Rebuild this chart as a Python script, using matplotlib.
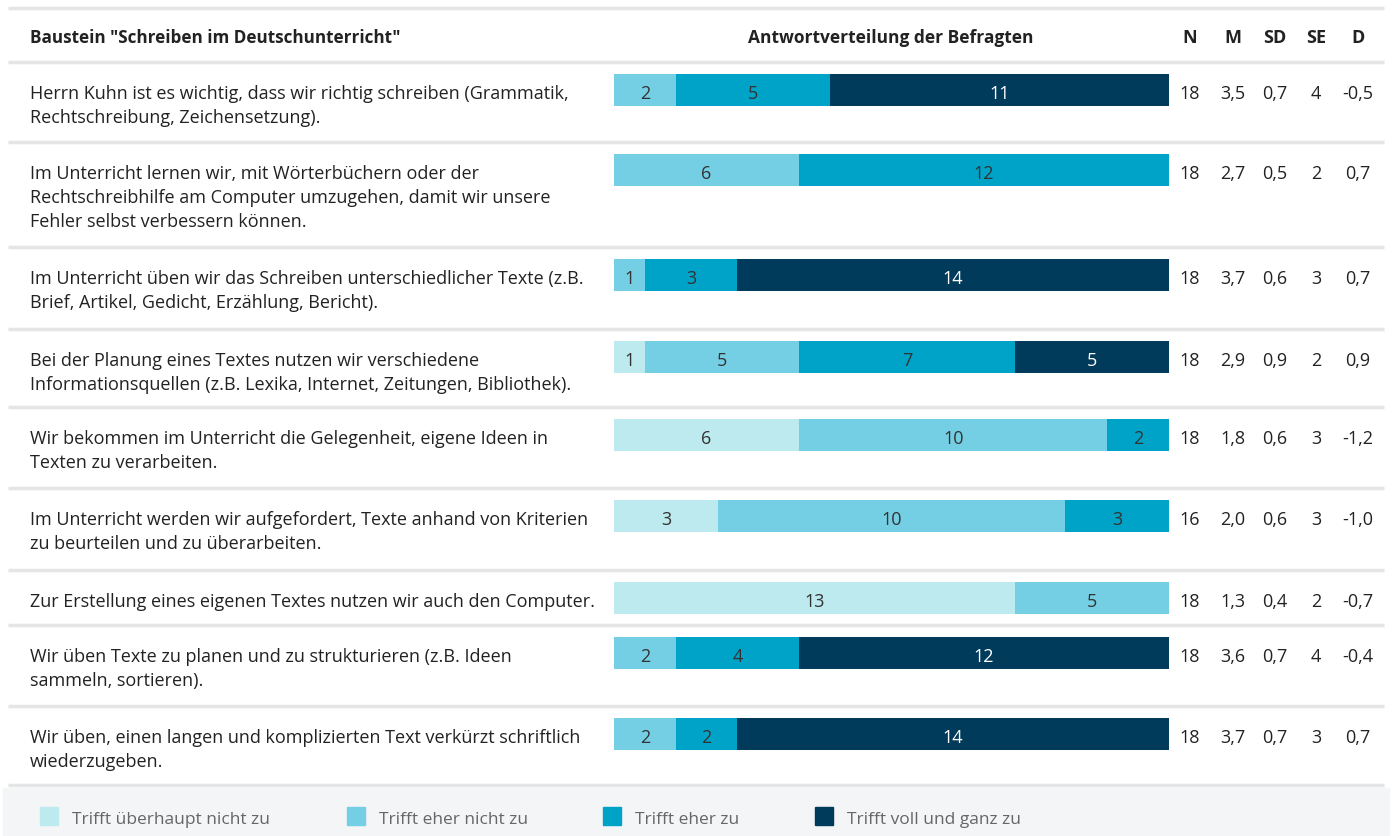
import matplotlib
matplotlib.use('Agg')
import matplotlib.pyplot as plt
import numpy as np
from matplotlib.patches import Rectangle

plt.rcParams['font.family'] = ['Open Sans', 'DejaVu Sans']

# ---- data ----
items = [
    "Herrn Kuhn ist es wichtig, dass wir richtig schreiben (Grammatik,\nRechtschreibung, Zeichensetzung).",
    "Im Unterricht lernen wir, mit Wörterbüchern oder der\nRechtschreibhilfe am Computer umzugehen, damit wir unsere\nFehler selbst verbessern können.",
    "Im Unterricht üben wir das Schreiben unterschiedlicher Texte (z.B.\nBrief, Artikel, Gedicht, Erzählung, Bericht).",
    "Bei der Planung eines Textes nutzen wir verschiedene\nInformationsquellen (z.B. Lexika, Internet, Zeitungen, Bibliothek).",
    "Wir bekommen im Unterricht die Gelegenheit, eigene Ideen in\nTexten zu verarbeiten.",
    "Im Unterricht werden wir aufgefordert, Texte anhand von Kriterien\nzu beurteilen und zu überarbeiten.",
    "Zur Erstellung eines eigenen Textes nutzen wir auch den Computer.",
    "Wir üben Texte zu planen und zu strukturieren (z.B. Ideen\nsammeln, sortieren).",
    "Wir üben, einen langen und komplizierten Text verkürzt schriftlich\nwiederzugeben.",
]
# counts: überhaupt nicht, eher nicht, eher zu, voll und ganz
counts = np.array([
    [0, 2, 5, 11],
    [0, 6, 12, 0],
    [0, 1, 3, 14],
    [1, 5, 7, 5],
    [6, 10, 2, 0],
    [3, 10, 3, 0],
    [13, 5, 0, 0],
    [0, 2, 4, 12],
    [0, 2, 2, 14],
])
N = ["18", "18", "18", "18", "18", "16", "18", "18", "18"]
M = ["3,5", "2,7", "3,7", "2,9", "1,8", "2,0", "1,3", "3,6", "3,7"]
SD = ["0,7", "0,5", "0,6", "0,9", "0,6", "0,6", "0,4", "0,7", "0,7"]
SE = ["4", "2", "3", "2", "3", "3", "2", "4", "3"]
D = ["-0,5", "0,7", "0,7", "0,9", "-1,2", "-1,0", "-0,7", "-0,4", "0,7"]
categories = ["Trifft überhaupt nicht zu", "Trifft eher nicht zu",
              "Trifft eher zu", "Trifft voll und ganz zu"]
colors = ["#bdeaee", "#75cfe4", "#00a3c8", "#003b5c"]
label_colors = ["#333333", "#333333", "#333333", "#ffffff"]

W, H = 1392, 837
fig = plt.figure(figsize=(W / 100, H / 100), dpi=100)
fig.patch.set_facecolor('white')

# background axes in pixel coordinates
ax = fig.add_axes([0, 0, 1, 1])
ax.set_xlim(0, W)
ax.set_ylim(H, 0)
ax.axis('off')

row_tops = [63, 143, 248, 330, 408, 489, 571, 626, 707]
row_bottom = 786
line_col = "#e5e5e5"
txt_col = "#222222"
fs = 13

# header
ax.plot([8, 1384], [9, 9], color=line_col, lw=2.5, solid_capstyle='butt')
ax.text(30, 36, 'Baustein "Schreiben im Deutschunterricht"', fontsize=12.3,
        fontweight='bold', color=txt_col, va='center_baseline', ha='left')
ax.text(891, 36, "Antwortverteilung der Befragten", fontsize=12.5,
        fontweight='bold', color=txt_col, va='center_baseline', ha='center')
stat_x = [1190, 1233, 1275, 1316, 1358]
for x, h in zip(stat_x, ["N", "M", "SD", "SE", "D"]):
    ax.text(x, 36, h, fontsize=13, fontweight='bold', color=txt_col,
            va='center_baseline', ha='center')

for y in row_tops + [row_bottom]:
    ax.plot([8, 1384], [y, y], color=line_col, lw=2.5, solid_capstyle='butt')

# bar axes: x in share of respondents, y in pixels
bx0, bx1 = 614, 1169
bax = fig.add_axes([bx0 / W, 0, (bx1 - bx0) / W, 1])
bax.set_xlim(0, 1)
bax.set_ylim(H, 0)
bax.axis('off')

shares = counts / counts.sum(axis=1, keepdims=True)
centers = np.array(row_tops) + 28
lefts = np.zeros(len(items))
for k in range(4):
    bax.barh(centers, shares[:, k], left=lefts, height=32, color=colors[k],
             linewidth=0)
    for i in range(len(items)):
        if counts[i, k] > 0:
            bax.text(lefts[i] + shares[i, k] / 2, centers[i] + 1,
                     str(counts[i, k]), fontsize=fs, color=label_colors[k],
                     ha='center', va='center_baseline')
    lefts += shares[:, k]

for i, txt in enumerate(items):
    for j, line in enumerate(txt.split("\n")):
        ax.text(30, row_tops[i] + 29 + 24 * j, line, fontsize=fs,
                color=txt_col, ha='left', va='center_baseline')
    for x, v in zip(stat_x, [N[i], M[i], SD[i], SE[i], D[i]]):
        ax.text(x, centers[i] + 1, v, fontsize=fs, color=txt_col,
                ha='center', va='center_baseline')

# legend band
ax.add_patch(Rectangle((3, 789), W - 6, H - 789, color="#f4f5f7", zorder=0))
leg_x = [40, 347, 603, 815]
for x, c, lab in zip(leg_x, colors, categories):
    ax.add_patch(Rectangle((x, 808), 18, 18, color=c))
    ax.text(x + 32, 818, lab, fontsize=12.5, color="#666666",
            ha='left', va='center_baseline')

fig.savefig("out.png", dpi=100)
